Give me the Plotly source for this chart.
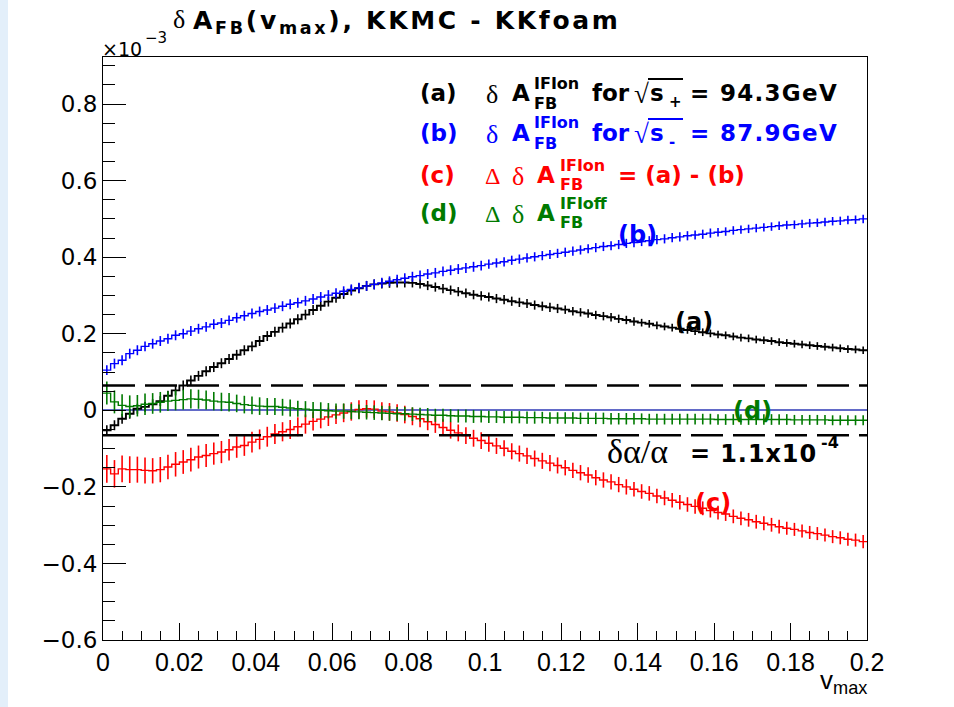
import numpy as np
import plotly.graph_objects as go

# ---------------- data (values in units of 1e-3) ----------------
V_LO, V_HI, N_BINS = 0.0, 0.2, 100

# (a) delta A_FB IFI on, sqrt(s+) = 94.3 GeV  (black)
a_vals = [
    -0.052, -0.039, -0.022, -0.009, 0.004, 0.009, 0.016, 0.024, 0.038, 0.052,
    0.065, 0.078, 0.090, 0.102, 0.113, 0.123, 0.134, 0.145, 0.157, 0.167,
    0.181, 0.194, 0.205, 0.216, 0.227, 0.238, 0.250, 0.262, 0.273, 0.284,
    0.294, 0.304, 0.313, 0.319, 0.325, 0.329, 0.331, 0.333, 0.334, 0.334,
    0.333, 0.330, 0.326, 0.322, 0.318, 0.314, 0.310, 0.306, 0.302, 0.299,
    0.296, 0.292, 0.289, 0.285, 0.282, 0.279, 0.275, 0.272, 0.269, 0.266,
    0.263, 0.259, 0.256, 0.253, 0.249, 0.246, 0.243, 0.239, 0.236, 0.232,
    0.229, 0.226, 0.222, 0.219, 0.216, 0.213, 0.210, 0.207, 0.204, 0.201,
    0.198, 0.196, 0.193, 0.190, 0.188, 0.185, 0.183, 0.181, 0.178, 0.176,
    0.174, 0.172, 0.170, 0.168, 0.166, 0.164, 0.162, 0.160, 0.159, 0.157,
]
a_errs = [
    0.013, 0.013, 0.013, 0.013, 0.013, 0.013, 0.013, 0.013, 0.013, 0.013,
    0.013, 0.013, 0.013, 0.013, 0.013, 0.013, 0.013, 0.013, 0.013, 0.013,
    0.013, 0.013, 0.013, 0.013, 0.013, 0.013, 0.013, 0.013, 0.013, 0.013,
    0.013, 0.013, 0.013, 0.013, 0.013, 0.013, 0.013, 0.013, 0.013, 0.013,
    0.012, 0.012, 0.012, 0.012, 0.012, 0.012, 0.012, 0.012, 0.012, 0.012,
    0.012, 0.012, 0.012, 0.012, 0.012, 0.012, 0.012, 0.012, 0.012, 0.012,
    0.011, 0.011, 0.011, 0.011, 0.011, 0.011, 0.011, 0.011, 0.011, 0.011,
    0.010, 0.010, 0.010, 0.010, 0.010, 0.010, 0.010, 0.010, 0.010, 0.010,
    0.010, 0.010, 0.010, 0.010, 0.010, 0.010, 0.010, 0.010, 0.010, 0.010,
    0.010, 0.010, 0.010, 0.010, 0.010, 0.010, 0.010, 0.010, 0.010, 0.010,
]

# (b) delta A_FB IFI on, sqrt(s-) = 87.9 GeV  (blue)
b_vals = [
    0.105, 0.122, 0.131, 0.148, 0.157, 0.167, 0.174, 0.181, 0.187, 0.196,
    0.200, 0.207, 0.213, 0.218, 0.225, 0.228, 0.235, 0.242, 0.247, 0.253,
    0.258, 0.262, 0.267, 0.272, 0.277, 0.281, 0.286, 0.291, 0.296, 0.301,
    0.306, 0.311, 0.316, 0.320, 0.325, 0.329, 0.333, 0.337, 0.341, 0.345,
    0.349, 0.352, 0.356, 0.359, 0.363, 0.366, 0.369, 0.372, 0.375, 0.378,
    0.382, 0.385, 0.388, 0.392, 0.395, 0.398, 0.401, 0.404, 0.407, 0.410,
    0.413, 0.416, 0.419, 0.422, 0.425, 0.428, 0.430, 0.433, 0.436, 0.438,
    0.441, 0.443, 0.446, 0.448, 0.451, 0.453, 0.456, 0.458, 0.460, 0.463,
    0.465, 0.467, 0.470, 0.472, 0.474, 0.476, 0.478, 0.480, 0.482, 0.484,
    0.485, 0.487, 0.489, 0.490, 0.492, 0.494, 0.495, 0.497, 0.498, 0.500,
]
b_errs = [
    0.013, 0.013, 0.013, 0.013, 0.013, 0.013, 0.013, 0.013, 0.013, 0.013,
    0.013, 0.013, 0.013, 0.013, 0.013, 0.013, 0.013, 0.013, 0.013, 0.013,
    0.013, 0.013, 0.013, 0.013, 0.013, 0.013, 0.013, 0.013, 0.013, 0.013,
    0.013, 0.013, 0.013, 0.013, 0.013, 0.013, 0.013, 0.013, 0.013, 0.013,
    0.013, 0.013, 0.013, 0.013, 0.013, 0.013, 0.013, 0.013, 0.013, 0.013,
    0.012, 0.012, 0.012, 0.012, 0.012, 0.012, 0.012, 0.012, 0.012, 0.012,
    0.012, 0.012, 0.012, 0.012, 0.012, 0.012, 0.012, 0.012, 0.012, 0.012,
    0.012, 0.012, 0.012, 0.012, 0.012, 0.012, 0.012, 0.012, 0.012, 0.012,
    0.011, 0.011, 0.011, 0.011, 0.011, 0.011, 0.011, 0.011, 0.011, 0.011,
    0.011, 0.011, 0.011, 0.011, 0.011, 0.011, 0.011, 0.011, 0.011, 0.011,
]

# (c) Delta delta A_FB IFI on = (a) - (b)  (red)
c_vals = [
    -0.153, -0.166, -0.153, -0.155, -0.155, -0.157, -0.158, -0.155, -0.148, -0.141,
    -0.135, -0.129, -0.122, -0.118, -0.113, -0.109, -0.103, -0.096, -0.092, -0.083,
    -0.076, -0.069, -0.062, -0.056, -0.050, -0.043, -0.036, -0.029, -0.023, -0.017,
    -0.012, -0.007, -0.003, 0.002, 0.004, 0.003, -0.002, -0.004, -0.007, -0.011,
    -0.016, -0.022, -0.030, -0.037, -0.045, -0.052, -0.059, -0.066, -0.073, -0.079,
    -0.086, -0.093, -0.099, -0.107, -0.113, -0.119, -0.126, -0.132, -0.138, -0.144,
    -0.150, -0.157, -0.163, -0.169, -0.176, -0.182, -0.187, -0.194, -0.200, -0.206,
    -0.212, -0.217, -0.224, -0.229, -0.235, -0.240, -0.246, -0.251, -0.256, -0.262,
    -0.267, -0.271, -0.277, -0.282, -0.286, -0.291, -0.295, -0.299, -0.304, -0.308,
    -0.311, -0.315, -0.319, -0.322, -0.326, -0.330, -0.333, -0.337, -0.339, -0.343,
]
c_errs = [
    0.036, 0.036, 0.035, 0.035, 0.034, 0.034, 0.033, 0.033, 0.032, 0.032,
    0.031, 0.031, 0.030, 0.030, 0.029, 0.029, 0.028, 0.028, 0.027, 0.027,
    0.026, 0.026, 0.026, 0.025, 0.025, 0.025, 0.025, 0.024, 0.024, 0.024,
    0.024, 0.024, 0.024, 0.024, 0.023, 0.023, 0.023, 0.023, 0.023, 0.023,
    0.023, 0.022, 0.022, 0.022, 0.022, 0.022, 0.022, 0.022, 0.022, 0.022,
    0.022, 0.021, 0.021, 0.021, 0.021, 0.021, 0.021, 0.021, 0.021, 0.021,
    0.020, 0.020, 0.020, 0.020, 0.020, 0.020, 0.020, 0.020, 0.020, 0.019,
    0.019, 0.019, 0.019, 0.019, 0.019, 0.019, 0.019, 0.019, 0.018, 0.018,
    0.018, 0.018, 0.018, 0.018, 0.018, 0.018, 0.018, 0.018, 0.018, 0.017,
    0.017, 0.017, 0.017, 0.017, 0.017, 0.017, 0.017, 0.017, 0.017, 0.017,
]

# (d) Delta delta A_FB IFI off  (green)
d_vals = [
    0.045, 0.022, 0.013, 0.010, 0.012, 0.016, 0.018, 0.021, 0.024, 0.026,
    0.028, 0.030, 0.029, 0.027, 0.024, 0.022, 0.021, 0.018, 0.015, 0.013,
    0.011, 0.010, 0.010, 0.008, 0.006, 0.004, 0.003, 0.001, 0.000, -0.001,
    -0.002, -0.002, -0.003, -0.004, -0.005, -0.006, -0.007, -0.008, -0.009, -0.009,
    -0.010, -0.011, -0.012, -0.013, -0.013, -0.014, -0.015, -0.015, -0.016, -0.016,
    -0.017, -0.017, -0.018, -0.018, -0.018, -0.019, -0.019, -0.019, -0.020, -0.020,
    -0.020, -0.020, -0.021, -0.021, -0.021, -0.021, -0.022, -0.022, -0.022, -0.022,
    -0.022, -0.023, -0.023, -0.023, -0.023, -0.023, -0.023, -0.023, -0.023, -0.023,
    -0.024, -0.024, -0.024, -0.024, -0.024, -0.024, -0.024, -0.024, -0.024, -0.024,
    -0.025, -0.025, -0.025, -0.025, -0.025, -0.026, -0.026, -0.026, -0.026, -0.026,
]
d_errs = [
    0.030, 0.030, 0.029, 0.029, 0.028, 0.028, 0.027, 0.027, 0.026, 0.026,
    0.026, 0.025, 0.025, 0.025, 0.024, 0.024, 0.024, 0.023, 0.023, 0.023,
    0.023, 0.022, 0.022, 0.022, 0.022, 0.021, 0.021, 0.021, 0.021, 0.020,
    0.020, 0.020, 0.020, 0.019, 0.019, 0.019, 0.019, 0.019, 0.018, 0.018,
    0.018, 0.018, 0.018, 0.017, 0.017, 0.017, 0.017, 0.017, 0.017, 0.016,
    0.016, 0.016, 0.016, 0.016, 0.016, 0.016, 0.016, 0.015, 0.015, 0.015,
    0.015, 0.015, 0.015, 0.015, 0.015, 0.015, 0.015, 0.015, 0.015, 0.015,
    0.014, 0.014, 0.014, 0.014, 0.014, 0.014, 0.014, 0.014, 0.014, 0.014,
    0.014, 0.014, 0.014, 0.014, 0.014, 0.014, 0.014, 0.014, 0.014, 0.014,
    0.013, 0.013, 0.013, 0.013, 0.013, 0.013, 0.013, 0.013, 0.013, 0.013,
]

ALPHA_BAND = 0.065          # +- band from delta alpha / alpha = 1.1e-4
Y_RANGE = [-0.6, 0.923]

# ---------------- styling ----------------
SANS = "DejaVu Sans"
SERIF = "Liberation Serif"
NARROW = "Liberation Sans Narrow, Liberation Sans"
BLACK, BLUE, RED, GREEN = "#000000", "#0000ff", "#ff0000", "#007a00"

W, H = 954, 707
PL, PR, PT, PB = 103, 867, 57, 640   # plot-area box in pixels


def px(x):
    return (x - PL) / (PR - PL)


def py(y):
    return (PB - y) / (PB - PT)


def spaced(s, sp):
    return '<span style="letter-spacing:%spx">%s</span>' % (sp, s)


edges = np.linspace(V_LO, V_HI, N_BINS + 1)
centers = 0.5 * (edges[:-1] + edges[1:])

fig = go.Figure()


def add_hist(vals, errs, color, width):
    fig.add_trace(go.Scatter(
        x=edges, y=list(vals) + [vals[-1]], mode="lines",
        line=dict(color=color, width=width, shape="hv"),
        hoverinfo="skip", showlegend=False))
    fig.add_trace(go.Scatter(
        x=centers, y=vals, mode="markers",
        marker=dict(size=0.1, color=color),
        error_y=dict(type="data", array=errs, visible=True,
                     color=color, thickness=1.6, width=0),
        hoverinfo="skip", showlegend=False))


add_hist(a_vals, a_errs, BLACK, 1.9)
add_hist(b_vals, b_errs, BLUE, 1.4)
add_hist(c_vals, c_errs, RED, 1.4)
add_hist(d_vals, d_errs, GREEN, 1.4)

# dashed band lines
for yv in (ALPHA_BAND, -ALPHA_BAND):
    fig.add_shape(type="line", xref="x", yref="y", x0=V_LO, x1=V_HI, y0=yv, y1=yv,
                  line=dict(color="black", width=2.6, dash="32px,10px"))

# left light strip of the page
fig.add_shape(type="rect", xref="paper", yref="paper", x0=px(0), x1=px(8),
              y0=py(H), y1=py(0), fillcolor="#e3effa", line=dict(width=0), layer="below")


def txt(x, y, s, size, color=BLACK, family=SANS, xanchor="left", yanchor="middle"):
    fig.add_annotation(x=px(x), y=py(y), xref="paper", yref="paper", text=s,
                       showarrow=False, xanchor=xanchor, yanchor=yanchor,
                       font=dict(size=size, color=color, family=family),
                       borderpad=0)


def overline(x0, x1, y, color):
    fig.add_shape(type="line", xref="paper", yref="paper", x0=px(x0), x1=px(x1),
                  y0=py(y), y1=py(y), line=dict(color=color, width=2))


# title
txt(172, 20, "δ", 26, family=SERIF)
txt(192, 22, spaced("<b>A<sub>FB</sub>(v<sub>max</sub>), KKMC - KKfoam</b>", 2.7), 25)

# x 10^-3 multiplier
txt(101, 49, "×10", 19)
txt(144, 38, "−3", 15)

# legend block
rows = [
    (93, "(a)", BLACK, "on", "+", "94.3GeV"),
    (133, "(b)", BLUE, "on", "-", "87.9GeV"),
]
for yc, lab, col, suf, sgn, energy in rows:
    txt(419, yc, "<b>" + lab + "</b>", 23, col)
    txt(485, yc + 1, "δ", 26, col, family=SERIF)
    txt(511, yc, "<b>A</b>", 23, col)
    txt(533, yc - 10, "<b>IFI" + suf + "</b>", 16, col)
    txt(533, yc + 10, "<b>FB</b>", 16, col)
    txt(591, yc, "<b>for</b>", 23, col)
    txt(633, yc + 1, "√", 27, col, family=SERIF)
    overline(648, 683, yc - 14, col)
    txt(649, yc, "<b>s</b>", 23, col)
    txt(668, yc + 9, "<b>" + sgn + "</b>", 15, col)
    txt(689, yc, spaced("<b>= " + energy + "</b>", 1.3), 23, col)

rows2 = [(175, "(c)", RED, "IFIon", True), (213, "(d)", GREEN, "IFIoff", False)]
for yc, lab, col, sup, eq in rows2:
    txt(419, yc, "<b>" + lab + "</b>", 23, col)
    txt(484, yc + 1, "Δ", 24, col, family=SERIF)
    txt(511, yc + 1, "δ", 26, col, family=SERIF)
    txt(536, yc, "<b>A</b>", 23, col)
    txt(559, yc - 10, "<b>" + sup + "</b>", 16, col)
    txt(559, yc + 9, "<b>FB</b>", 16, col)
    if eq:
        txt(617, yc, "<b>= (a) - (b)</b>", 23, col)

# curve labels
txt(674, 322, "<b>(a)</b>", 24, BLACK)
txt(617, 235, "<b>(b)</b>", 24, BLUE)
txt(694, 503, "<b>(c)</b>", 24, RED)
txt(732, 411, "<b>(d)</b>", 24, GREEN)

# delta alpha / alpha label
txt(606, 452, "δα/α", 34, family=SERIF)
txt(689, 454, spaced("<b>= 1.1x10</b>", 0.9), 24)
txt(820, 442, "<b>-4</b>", 16)

# x-axis title
txt(868, 681, "v<sub>max</sub>", 26, family=NARROW, xanchor="right")

fig.update_layout(
    width=W, height=H, autosize=False,
    margin=dict(l=PL, r=W - PR, t=PT, b=H - PB, pad=0),
    paper_bgcolor="white", plot_bgcolor="white",
    showlegend=False,
    xaxis=dict(range=[V_LO, V_HI], showgrid=False, zeroline=False,
               showline=True, linecolor="black", linewidth=1, mirror=True,
               ticks="inside", ticklen=17, tickwidth=1, tickcolor="black",
               tick0=0, dtick=0.02,
               tickfont=dict(family=NARROW, size=25, color="black"),
               minor=dict(ticks="inside", ticklen=9, tickwidth=1, tickcolor="black",
                          tick0=0, dtick=0.005, showgrid=False)),
    yaxis=dict(range=Y_RANGE, showgrid=False,
               zeroline=True, zerolinecolor="rgba(70,80,190,0.85)", zerolinewidth=1.6,
               showline=True, linecolor="black", linewidth=1, mirror=True,
               ticks="inside", ticklen=23, tickwidth=1, tickcolor="black",
               tick0=0, dtick=0.2,
               tickfont=dict(family=SANS, size=23, color="black"),
               minor=dict(ticks="inside", ticklen=12, tickwidth=1, tickcolor="black",
                          tick0=0, dtick=0.05, showgrid=False)),
)

fig.write_html("out.html")
